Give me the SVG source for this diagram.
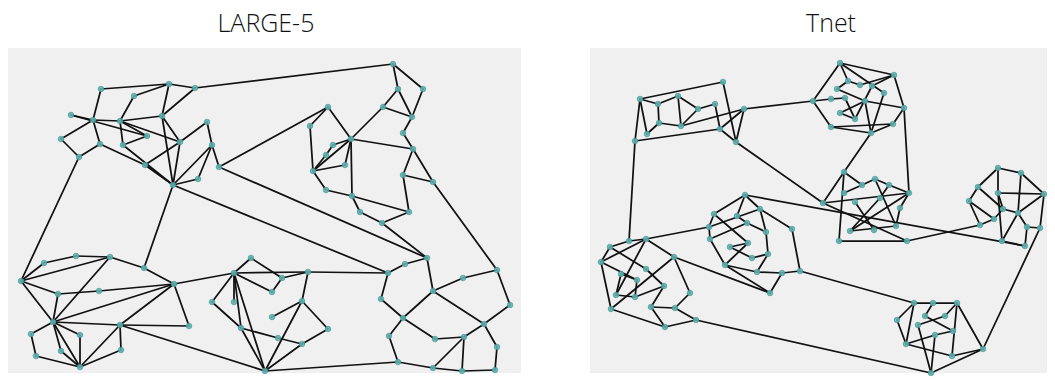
<svg xmlns="http://www.w3.org/2000/svg" width="1055" height="380" viewBox="0 0 1055 380">
<style>
.panel{fill:#f0f0f0}
.title{font-family:"Open Sans","Noto Sans","Liberation Sans",sans-serif;font-size:25px;font-weight:300;fill:#111;text-anchor:middle}
.edges line{stroke:#111;stroke-width:1.75;stroke-linecap:round}
.nodes circle{r:2.8px;fill:#5fb3b0;stroke:#3d918e;stroke-width:0.6;fill-opacity:0.9}
</style>
<rect class="panel" x="8" y="48" width="513" height="325"/>
<rect class="panel" x="590" y="48" width="457" height="325"/>
<text class="title" x="266" y="32">LARGE-5</text>
<text class="title" x="831" y="32">Tnet</text>
<g id="connectors" class="edges">
<line x1="101" y1="89" x2="169" y2="84"/><line x1="134" y1="96" x2="169" y2="84"/><line x1="169" y1="84" x2="195" y2="88"/><line x1="195" y1="88" x2="393" y2="64"/><line x1="101" y1="89" x2="93" y2="120"/><line x1="134" y1="96" x2="120" y2="121"/><line x1="169" y1="84" x2="162" y2="116"/><line x1="195" y1="88" x2="162" y2="116"/><line x1="71" y1="115" x2="93" y2="120"/><line x1="93" y1="120" x2="120" y2="121"/><line x1="120" y1="121" x2="162" y2="116"/><line x1="71" y1="115" x2="147" y2="136"/><line x1="61" y1="139" x2="93" y2="120"/><line x1="61" y1="139" x2="79" y2="157"/><line x1="79" y1="157" x2="100" y2="144"/><line x1="93" y1="120" x2="100" y2="144"/><line x1="100" y1="144" x2="145" y2="165"/><line x1="145" y1="165" x2="173" y2="185"/><line x1="123" y1="145" x2="173" y2="185"/><line x1="120" y1="121" x2="123" y2="145"/><line x1="123" y1="145" x2="147" y2="136"/><line x1="120" y1="121" x2="147" y2="136"/><line x1="162" y1="116" x2="180" y2="142"/><line x1="162" y1="116" x2="173" y2="185"/><line x1="180" y1="142" x2="173" y2="185"/><line x1="145" y1="165" x2="180" y2="142"/><line x1="180" y1="142" x2="207" y2="122"/><line x1="120" y1="121" x2="180" y2="142"/><line x1="207" y1="122" x2="212" y2="145"/><line x1="212" y1="145" x2="219" y2="167"/><line x1="212" y1="145" x2="198" y2="179"/><line x1="212" y1="145" x2="173" y2="185"/><line x1="198" y1="179" x2="173" y2="185"/><line x1="173" y1="185" x2="144" y2="268"/><line x1="173" y1="185" x2="388" y2="273"/><line x1="219" y1="167" x2="328" y2="107"/><line x1="219" y1="167" x2="427" y2="258"/><line x1="79" y1="157" x2="21" y2="281"/>
<line x1="393" y1="64" x2="398" y2="89"/><line x1="393" y1="64" x2="423" y2="89"/><line x1="398" y1="89" x2="383" y2="107"/><line x1="398" y1="89" x2="412" y2="117"/><line x1="423" y1="89" x2="412" y2="117"/><line x1="383" y1="107" x2="412" y2="117"/><line x1="412" y1="117" x2="403" y2="133"/><line x1="403" y1="133" x2="413" y2="149"/><line x1="383" y1="107" x2="351" y2="139"/><line x1="328" y1="107" x2="351" y2="139"/><line x1="328" y1="107" x2="310" y2="126"/><line x1="310" y1="126" x2="313" y2="171"/><line x1="351" y1="139" x2="413" y2="149"/><line x1="351" y1="139" x2="313" y2="171"/><line x1="351" y1="139" x2="333" y2="145"/><line x1="333" y1="145" x2="326" y2="155"/><line x1="326" y1="155" x2="313" y2="171"/><line x1="351" y1="139" x2="345" y2="165"/><line x1="345" y1="165" x2="313" y2="171"/><line x1="351" y1="139" x2="352" y2="196"/><line x1="313" y1="171" x2="326" y2="190"/><line x1="326" y1="190" x2="352" y2="196"/><line x1="352" y1="196" x2="409" y2="212"/><line x1="352" y1="196" x2="360" y2="212"/><line x1="413" y1="149" x2="403" y2="175"/><line x1="403" y1="175" x2="409" y2="212"/><line x1="403" y1="175" x2="433" y2="182"/><line x1="413" y1="149" x2="433" y2="182"/><line x1="433" y1="182" x2="497" y2="270"/><line x1="360" y1="212" x2="382" y2="223"/><line x1="382" y1="223" x2="409" y2="212"/><line x1="382" y1="223" x2="427" y2="258"/>
<line x1="388" y1="273" x2="405" y2="264"/><line x1="405" y1="264" x2="427" y2="258"/><line x1="427" y1="258" x2="433" y2="291"/><line x1="388" y1="273" x2="381" y2="299"/><line x1="381" y1="299" x2="403" y2="318"/><line x1="403" y1="318" x2="435" y2="339"/><line x1="433" y1="291" x2="403" y2="318"/><line x1="403" y1="318" x2="389" y2="336"/><line x1="389" y1="336" x2="398" y2="362"/><line x1="435" y1="339" x2="464" y2="337"/><line x1="433" y1="291" x2="463" y2="278"/><line x1="463" y1="278" x2="497" y2="270"/><line x1="497" y1="270" x2="510" y2="305"/><line x1="510" y1="305" x2="484" y2="324"/><line x1="433" y1="291" x2="484" y2="324"/><line x1="484" y1="324" x2="464" y2="337"/><line x1="484" y1="324" x2="497" y2="347"/><line x1="497" y1="347" x2="495" y2="370"/><line x1="464" y1="337" x2="462" y2="371"/><line x1="464" y1="337" x2="433" y2="368"/><line x1="433" y1="368" x2="398" y2="362"/><line x1="433" y1="368" x2="462" y2="371"/><line x1="462" y1="371" x2="495" y2="370"/><line x1="398" y1="362" x2="265" y2="371"/><line x1="308" y1="272" x2="388" y2="273"/>
<line x1="21" y1="281" x2="44" y2="263"/><line x1="44" y1="263" x2="76" y2="256"/><line x1="76" y1="256" x2="110" y2="257"/><line x1="21" y1="281" x2="110" y2="257"/><line x1="21" y1="281" x2="58" y2="294"/><line x1="21" y1="281" x2="53" y2="322"/><line x1="110" y1="257" x2="144" y2="268"/><line x1="144" y1="268" x2="174" y2="284"/><line x1="110" y1="257" x2="53" y2="322"/><line x1="58" y1="294" x2="99" y2="291"/><line x1="99" y1="291" x2="174" y2="284"/><line x1="58" y1="294" x2="53" y2="322"/><line x1="53" y1="322" x2="174" y2="284"/><line x1="53" y1="322" x2="120" y2="325"/><line x1="120" y1="325" x2="189" y2="326"/><line x1="174" y1="284" x2="189" y2="326"/><line x1="174" y1="284" x2="120" y2="325"/><line x1="174" y1="284" x2="234" y2="273"/><line x1="53" y1="322" x2="31" y2="334"/><line x1="31" y1="334" x2="36" y2="356"/><line x1="36" y1="356" x2="80" y2="367"/><line x1="53" y1="322" x2="80" y2="335"/><line x1="53" y1="322" x2="61" y2="351"/><line x1="61" y1="351" x2="80" y2="367"/><line x1="53" y1="322" x2="80" y2="367"/><line x1="80" y1="335" x2="80" y2="367"/><line x1="120" y1="325" x2="121" y2="350"/><line x1="121" y1="350" x2="80" y2="367"/><line x1="120" y1="325" x2="80" y2="367"/><line x1="120" y1="325" x2="265" y2="371"/>
<line x1="251" y1="258" x2="234" y2="273"/><line x1="234" y1="273" x2="308" y2="272"/><line x1="234" y1="273" x2="212" y2="302"/><line x1="212" y1="302" x2="241" y2="328"/><line x1="234" y1="273" x2="234" y2="302"/><line x1="234" y1="273" x2="241" y2="328"/><line x1="234" y1="273" x2="265" y2="371"/><line x1="241" y1="328" x2="265" y2="371"/><line x1="251" y1="258" x2="282" y2="278"/><line x1="282" y1="278" x2="272" y2="292"/><line x1="308" y1="272" x2="282" y2="278"/><line x1="308" y1="272" x2="302" y2="301"/><line x1="302" y1="301" x2="272" y2="317"/><line x1="302" y1="301" x2="328" y2="329"/><line x1="302" y1="301" x2="265" y2="371"/><line x1="328" y1="329" x2="302" y2="344"/><line x1="302" y1="344" x2="265" y2="371"/><line x1="278" y1="338" x2="302" y2="344"/><line x1="241" y1="328" x2="278" y2="338"/><line x1="272" y1="292" x2="234" y2="273"/>
<line x1="640" y1="99" x2="723" y2="82"/><line x1="723" y1="82" x2="736" y2="142"/><line x1="640" y1="99" x2="658" y2="104"/><line x1="658" y1="104" x2="678" y2="96"/><line x1="678" y1="96" x2="698" y2="109"/><line x1="698" y1="109" x2="681" y2="126"/><line x1="678" y1="96" x2="681" y2="126"/><line x1="658" y1="104" x2="659" y2="123"/><line x1="659" y1="123" x2="681" y2="126"/><line x1="659" y1="123" x2="647" y2="134"/><line x1="640" y1="99" x2="647" y2="134"/><line x1="640" y1="99" x2="635" y2="141"/><line x1="635" y1="141" x2="720" y2="129"/><line x1="698" y1="109" x2="715" y2="104"/><line x1="715" y1="104" x2="720" y2="129"/><line x1="681" y1="126" x2="744" y2="109"/><line x1="720" y1="129" x2="744" y2="109"/><line x1="744" y1="109" x2="736" y2="142"/><line x1="720" y1="129" x2="736" y2="142"/><line x1="744" y1="109" x2="813" y2="101"/><line x1="635" y1="141" x2="629" y2="241"/><line x1="736" y1="142" x2="823" y2="203"/>
<line x1="840" y1="63" x2="894" y2="75"/><line x1="840" y1="63" x2="813" y2="101"/><line x1="813" y1="101" x2="831" y2="127"/><line x1="831" y1="127" x2="871" y2="133"/><line x1="871" y1="133" x2="893" y2="124"/><line x1="893" y1="124" x2="904" y2="108"/><line x1="904" y1="108" x2="894" y2="75"/><line x1="840" y1="63" x2="848" y2="81"/><line x1="848" y1="81" x2="860" y2="85"/><line x1="860" y1="85" x2="894" y2="75"/><line x1="840" y1="63" x2="884" y2="93"/><line x1="872" y1="86" x2="894" y2="75"/><line x1="837" y1="89" x2="848" y2="81"/><line x1="837" y1="89" x2="865" y2="101"/><line x1="813" y1="101" x2="831" y2="99"/><line x1="831" y1="99" x2="845" y2="98"/><line x1="845" y1="98" x2="855" y2="119"/><line x1="840" y1="113" x2="855" y2="119"/><line x1="840" y1="113" x2="865" y2="101"/><line x1="865" y1="101" x2="904" y2="108"/><line x1="865" y1="101" x2="871" y2="133"/><line x1="884" y1="93" x2="871" y2="133"/><line x1="831" y1="127" x2="893" y2="124"/><line x1="855" y1="119" x2="872" y2="86"/><line x1="904" y1="108" x2="909" y2="193"/><line x1="871" y1="133" x2="844" y2="172"/>
<line x1="844" y1="172" x2="823" y2="203"/><line x1="844" y1="172" x2="862" y2="185"/><line x1="862" y1="185" x2="875" y2="179"/><line x1="875" y1="179" x2="889" y2="185"/><line x1="889" y1="185" x2="909" y2="193"/><line x1="844" y1="172" x2="839" y2="241"/><line x1="844" y1="193" x2="862" y2="185"/><line x1="823" y1="203" x2="909" y2="193"/><line x1="823" y1="203" x2="907" y2="241"/><line x1="839" y1="241" x2="907" y2="241"/><line x1="850" y1="231" x2="896" y2="226"/><line x1="850" y1="231" x2="880" y2="198"/><line x1="875" y1="179" x2="896" y2="226"/><line x1="900" y1="208" x2="896" y2="226"/><line x1="909" y1="193" x2="900" y2="208"/><line x1="909" y1="193" x2="850" y2="231"/><line x1="855" y1="202" x2="874" y2="230"/><line x1="889" y1="185" x2="880" y2="198"/><line x1="907" y1="241" x2="980" y2="225"/>
<line x1="998" y1="168" x2="1021" y2="173"/><line x1="998" y1="168" x2="978" y2="187"/><line x1="978" y1="187" x2="969" y2="201"/><line x1="969" y1="201" x2="980" y2="225"/><line x1="980" y1="225" x2="994" y2="219"/><line x1="994" y1="219" x2="1003" y2="209"/><line x1="1003" y1="209" x2="998" y2="193"/><line x1="998" y1="193" x2="998" y2="168"/><line x1="998" y1="193" x2="1044" y2="194"/><line x1="1021" y1="173" x2="1044" y2="194"/><line x1="1021" y1="173" x2="1018" y2="213"/><line x1="1044" y1="194" x2="1018" y2="213"/><line x1="1018" y1="213" x2="1003" y2="209"/><line x1="1018" y1="213" x2="1027" y2="227"/><line x1="1027" y1="227" x2="1040" y2="228"/><line x1="1040" y1="228" x2="1044" y2="194"/><line x1="1027" y1="227" x2="1025" y2="246"/><line x1="1002" y1="241" x2="1025" y2="246"/><line x1="1002" y1="241" x2="998" y2="193"/><line x1="1002" y1="241" x2="1018" y2="213"/><line x1="978" y1="187" x2="1003" y2="209"/><line x1="969" y1="201" x2="994" y2="219"/><line x1="1040" y1="228" x2="983" y2="349"/>
<line x1="629" y1="241" x2="646" y2="239"/><line x1="629" y1="241" x2="610" y2="247"/><line x1="610" y1="247" x2="601" y2="262"/><line x1="601" y1="262" x2="611" y2="309"/><line x1="611" y1="309" x2="665" y2="327"/><line x1="665" y1="327" x2="696" y2="320"/><line x1="696" y1="320" x2="675" y2="308"/><line x1="675" y1="308" x2="651" y2="307"/><line x1="651" y1="307" x2="665" y2="327"/><line x1="651" y1="307" x2="664" y2="286"/><line x1="646" y1="239" x2="674" y2="257"/><line x1="674" y1="257" x2="690" y2="293"/><line x1="690" y1="293" x2="675" y2="308"/><line x1="610" y1="247" x2="646" y2="269"/><line x1="601" y1="262" x2="646" y2="239"/><line x1="601" y1="262" x2="637" y2="280"/><line x1="621" y1="274" x2="637" y2="280"/><line x1="621" y1="274" x2="616" y2="295"/><line x1="616" y1="295" x2="635" y2="297"/><line x1="635" y1="297" x2="637" y2="280"/><line x1="635" y1="297" x2="664" y2="286"/><line x1="611" y1="309" x2="674" y2="257"/><line x1="646" y1="239" x2="616" y2="295"/><line x1="646" y1="239" x2="709" y2="227"/><line x1="674" y1="257" x2="770" y2="293"/><line x1="696" y1="320" x2="931" y2="373"/><line x1="646" y1="269" x2="664" y2="286"/>
<line x1="745" y1="195" x2="714" y2="214"/><line x1="745" y1="195" x2="760" y2="209"/><line x1="745" y1="195" x2="737" y2="216"/><line x1="745" y1="195" x2="1025" y2="246"/><line x1="714" y1="214" x2="709" y2="227"/><line x1="709" y1="227" x2="710" y2="239"/><line x1="710" y1="239" x2="725" y2="265"/><line x1="725" y1="265" x2="757" y2="272"/><line x1="757" y1="272" x2="782" y2="273"/><line x1="782" y1="273" x2="800" y2="271"/><line x1="800" y1="271" x2="792" y2="229"/><line x1="792" y1="229" x2="760" y2="209"/><line x1="760" y1="209" x2="766" y2="232"/><line x1="766" y1="232" x2="768" y2="254"/><line x1="768" y1="254" x2="752" y2="258"/><line x1="752" y1="258" x2="730" y2="247"/><line x1="714" y1="214" x2="748" y2="243"/><line x1="737" y1="216" x2="747" y2="223"/><line x1="747" y1="223" x2="766" y2="232"/><line x1="747" y1="223" x2="710" y2="239"/><line x1="709" y1="227" x2="760" y2="209"/><line x1="748" y1="243" x2="730" y2="247"/><line x1="748" y1="243" x2="725" y2="265"/><line x1="782" y1="273" x2="770" y2="293"/><line x1="757" y1="272" x2="768" y2="254"/><line x1="800" y1="271" x2="914" y2="303"/><line x1="770" y1="293" x2="725" y2="265"/>
<line x1="914" y1="303" x2="933" y2="303"/><line x1="933" y1="303" x2="957" y2="303"/><line x1="914" y1="303" x2="897" y2="320"/><line x1="897" y1="320" x2="906" y2="344"/><line x1="914" y1="303" x2="906" y2="344"/><line x1="906" y1="344" x2="952" y2="356"/><line x1="952" y1="356" x2="983" y2="349"/><line x1="983" y1="349" x2="957" y2="303"/><line x1="957" y1="303" x2="952" y2="356"/><line x1="933" y1="303" x2="925" y2="316"/><line x1="925" y1="316" x2="953" y2="331"/><line x1="945" y1="316" x2="918" y2="325"/><line x1="957" y1="303" x2="945" y2="316"/><line x1="918" y1="325" x2="931" y2="373"/><line x1="935" y1="335" x2="931" y2="373"/><line x1="931" y1="373" x2="983" y2="349"/><line x1="953" y1="331" x2="935" y2="335"/><line x1="906" y1="344" x2="935" y2="335"/>
</g>
<g class="nodes">
<g id="L1"><circle cx="101" cy="89"/></g><g id="L2"><circle cx="169" cy="84"/></g><g id="L3"><circle cx="195" cy="88"/></g><g id="L4"><circle cx="134" cy="96"/></g><g id="L5"><circle cx="71" cy="115"/></g><g id="L6"><circle cx="93" cy="120"/></g><g id="L7"><circle cx="120" cy="121"/></g><g id="L8"><circle cx="162" cy="116"/></g><g id="L9"><circle cx="207" cy="122"/></g><g id="L10"><circle cx="61" cy="139"/></g><g id="L11"><circle cx="147" cy="136"/></g><g id="L12"><circle cx="123" cy="145"/></g><g id="L13"><circle cx="100" cy="144"/></g><g id="L14"><circle cx="180" cy="142"/></g><g id="L15"><circle cx="212" cy="145"/></g><g id="L16"><circle cx="79" cy="157"/></g><g id="L17"><circle cx="145" cy="165"/></g><g id="L18"><circle cx="219" cy="167"/></g><g id="L19"><circle cx="198" cy="179"/></g><g id="L20"><circle cx="173" cy="185"/></g>
<g id="L21"><circle cx="393" cy="64"/></g><g id="L22"><circle cx="398" cy="89"/></g><g id="L23"><circle cx="423" cy="89"/></g><g id="L24"><circle cx="383" cy="107"/></g><g id="L25"><circle cx="412" cy="117"/></g><g id="L26"><circle cx="328" cy="107"/></g><g id="L27"><circle cx="310" cy="126"/></g><g id="L28"><circle cx="403" cy="133"/></g><g id="L29"><circle cx="351" cy="139"/></g><g id="L30"><circle cx="333" cy="145"/></g><g id="L31"><circle cx="326" cy="155"/></g><g id="L32"><circle cx="345" cy="165"/></g><g id="L33"><circle cx="413" cy="149"/></g><g id="L34"><circle cx="313" cy="171"/></g><g id="L35"><circle cx="403" cy="175"/></g><g id="L36"><circle cx="433" cy="182"/></g><g id="L37"><circle cx="326" cy="190"/></g><g id="L38"><circle cx="352" cy="196"/></g><g id="L39"><circle cx="360" cy="212"/></g><g id="L40"><circle cx="409" cy="212"/></g><g id="L41"><circle cx="382" cy="223"/></g>
<g id="L42"><circle cx="427" cy="258"/></g><g id="L43"><circle cx="405" cy="264"/></g><g id="L44"><circle cx="388" cy="273"/></g><g id="L45"><circle cx="497" cy="270"/></g><g id="L46"><circle cx="463" cy="278"/></g><g id="L47"><circle cx="433" cy="291"/></g><g id="L48"><circle cx="381" cy="299"/></g><g id="L49"><circle cx="510" cy="305"/></g><g id="L50"><circle cx="403" cy="318"/></g><g id="L51"><circle cx="484" cy="324"/></g><g id="L52"><circle cx="389" cy="336"/></g><g id="L53"><circle cx="435" cy="339"/></g><g id="L54"><circle cx="464" cy="337"/></g><g id="L55"><circle cx="497" cy="347"/></g><g id="L56"><circle cx="398" cy="362"/></g><g id="L57"><circle cx="433" cy="368"/></g><g id="L58"><circle cx="462" cy="371"/></g><g id="L59"><circle cx="495" cy="370"/></g>
<g id="L60"><circle cx="21" cy="281"/></g><g id="L61"><circle cx="44" cy="263"/></g><g id="L62"><circle cx="76" cy="256"/></g><g id="L63"><circle cx="110" cy="257"/></g><g id="L64"><circle cx="144" cy="268"/></g><g id="L65"><circle cx="58" cy="294"/></g><g id="L66"><circle cx="99" cy="291"/></g><g id="L67"><circle cx="174" cy="284"/></g><g id="L68"><circle cx="53" cy="322"/></g><g id="L69"><circle cx="120" cy="325"/></g><g id="L70"><circle cx="189" cy="326"/></g><g id="L71"><circle cx="31" cy="334"/></g><g id="L72"><circle cx="80" cy="335"/></g><g id="L73"><circle cx="36" cy="356"/></g><g id="L74"><circle cx="61" cy="351"/></g><g id="L75"><circle cx="121" cy="350"/></g><g id="L76"><circle cx="80" cy="367"/></g>
<g id="L77"><circle cx="251" cy="258"/></g><g id="L78"><circle cx="234" cy="273"/></g><g id="L79"><circle cx="212" cy="302"/></g><g id="L80"><circle cx="234" cy="302"/></g><g id="L81"><circle cx="241" cy="328"/></g><g id="L82"><circle cx="265" cy="371"/></g><g id="L83"><circle cx="282" cy="278"/></g><g id="L84"><circle cx="308" cy="272"/></g><g id="L85"><circle cx="272" cy="292"/></g><g id="L86"><circle cx="302" cy="301"/></g><g id="L87"><circle cx="272" cy="317"/></g><g id="L88"><circle cx="328" cy="329"/></g><g id="L89"><circle cx="278" cy="338"/></g><g id="L90"><circle cx="302" cy="344"/></g>
<g id="R1"><circle cx="723" cy="82"/></g><g id="R2"><circle cx="640" cy="99"/></g><g id="R3"><circle cx="658" cy="104"/></g><g id="R4"><circle cx="678" cy="96"/></g><g id="R5"><circle cx="698" cy="109"/></g><g id="R6"><circle cx="715" cy="104"/></g><g id="R7"><circle cx="744" cy="109"/></g><g id="R8"><circle cx="659" cy="123"/></g><g id="R9"><circle cx="681" cy="126"/></g><g id="R10"><circle cx="647" cy="134"/></g><g id="R11"><circle cx="720" cy="129"/></g><g id="R12"><circle cx="635" cy="141"/></g><g id="R13"><circle cx="736" cy="142"/></g>
<g id="R14"><circle cx="840" cy="63"/></g><g id="R15"><circle cx="894" cy="75"/></g><g id="R16"><circle cx="848" cy="81"/></g><g id="R17"><circle cx="860" cy="85"/></g><g id="R18"><circle cx="872" cy="86"/></g><g id="R19"><circle cx="837" cy="89"/></g><g id="R20"><circle cx="884" cy="93"/></g><g id="R21"><circle cx="813" cy="101"/></g><g id="R22"><circle cx="831" cy="99"/></g><g id="R23"><circle cx="845" cy="98"/></g><g id="R24"><circle cx="865" cy="101"/></g><g id="R25"><circle cx="904" cy="108"/></g><g id="R26"><circle cx="840" cy="113"/></g><g id="R27"><circle cx="855" cy="119"/></g><g id="R28"><circle cx="831" cy="127"/></g><g id="R29"><circle cx="893" cy="124"/></g><g id="R30"><circle cx="871" cy="133"/></g>
<g id="R31"><circle cx="844" cy="172"/></g><g id="R32"><circle cx="862" cy="185"/></g><g id="R33"><circle cx="875" cy="179"/></g><g id="R34"><circle cx="889" cy="185"/></g><g id="R35"><circle cx="844" cy="193"/></g><g id="R36"><circle cx="909" cy="193"/></g><g id="R37"><circle cx="823" cy="203"/></g><g id="R38"><circle cx="855" cy="202"/></g><g id="R39"><circle cx="880" cy="198"/></g><g id="R40"><circle cx="900" cy="208"/></g><g id="R41"><circle cx="850" cy="231"/></g><g id="R42"><circle cx="874" cy="230"/></g><g id="R43"><circle cx="896" cy="226"/></g><g id="R44"><circle cx="839" cy="241"/></g><g id="R45"><circle cx="907" cy="241"/></g>
<g id="R46"><circle cx="998" cy="168"/></g><g id="R47"><circle cx="1021" cy="173"/></g><g id="R48"><circle cx="978" cy="187"/></g><g id="R49"><circle cx="998" cy="193"/></g><g id="R50"><circle cx="1044" cy="194"/></g><g id="R51"><circle cx="969" cy="201"/></g><g id="R52"><circle cx="1003" cy="209"/></g><g id="R53"><circle cx="1018" cy="213"/></g><g id="R54"><circle cx="994" cy="219"/></g><g id="R55"><circle cx="980" cy="225"/></g><g id="R56"><circle cx="1027" cy="227"/></g><g id="R57"><circle cx="1040" cy="228"/></g><g id="R58"><circle cx="1002" cy="241"/></g><g id="R59"><circle cx="1025" cy="246"/></g>
<g id="R60"><circle cx="629" cy="241"/></g><g id="R61"><circle cx="646" cy="239"/></g><g id="R62"><circle cx="610" cy="247"/></g><g id="R63"><circle cx="601" cy="262"/></g><g id="R64"><circle cx="674" cy="257"/></g><g id="R65"><circle cx="646" cy="269"/></g><g id="R66"><circle cx="621" cy="274"/></g><g id="R67"><circle cx="637" cy="280"/></g><g id="R68"><circle cx="664" cy="286"/></g><g id="R69"><circle cx="616" cy="295"/></g><g id="R70"><circle cx="635" cy="297"/></g><g id="R71"><circle cx="690" cy="293"/></g><g id="R72"><circle cx="611" cy="309"/></g><g id="R73"><circle cx="651" cy="307"/></g><g id="R74"><circle cx="675" cy="308"/></g><g id="R75"><circle cx="696" cy="320"/></g><g id="R76"><circle cx="665" cy="327"/></g>
<g id="R77"><circle cx="745" cy="195"/></g><g id="R78"><circle cx="760" cy="209"/></g><g id="R79"><circle cx="714" cy="214"/></g><g id="R80"><circle cx="737" cy="216"/></g><g id="R81"><circle cx="747" cy="223"/></g><g id="R82"><circle cx="709" cy="227"/></g><g id="R83"><circle cx="766" cy="232"/></g><g id="R84"><circle cx="792" cy="229"/></g><g id="R85"><circle cx="710" cy="239"/></g><g id="R86"><circle cx="748" cy="243"/></g><g id="R87"><circle cx="730" cy="247"/></g><g id="R88"><circle cx="768" cy="254"/></g><g id="R89"><circle cx="752" cy="258"/></g><g id="R90"><circle cx="725" cy="265"/></g><g id="R91"><circle cx="757" cy="272"/></g><g id="R92"><circle cx="782" cy="273"/></g><g id="R93"><circle cx="800" cy="271"/></g><g id="R94"><circle cx="770" cy="293"/></g>
<g id="R95"><circle cx="914" cy="303"/></g><g id="R96"><circle cx="933" cy="303"/></g><g id="R97"><circle cx="957" cy="303"/></g><g id="R98"><circle cx="897" cy="320"/></g><g id="R99"><circle cx="925" cy="316"/></g><g id="R100"><circle cx="945" cy="316"/></g><g id="R101"><circle cx="918" cy="325"/></g><g id="R102"><circle cx="935" cy="335"/></g><g id="R103"><circle cx="953" cy="331"/></g><g id="R104"><circle cx="906" cy="344"/></g><g id="R105"><circle cx="952" cy="356"/></g><g id="R106"><circle cx="983" cy="349"/></g><g id="R107"><circle cx="931" cy="373"/></g>
</g>
</svg>
